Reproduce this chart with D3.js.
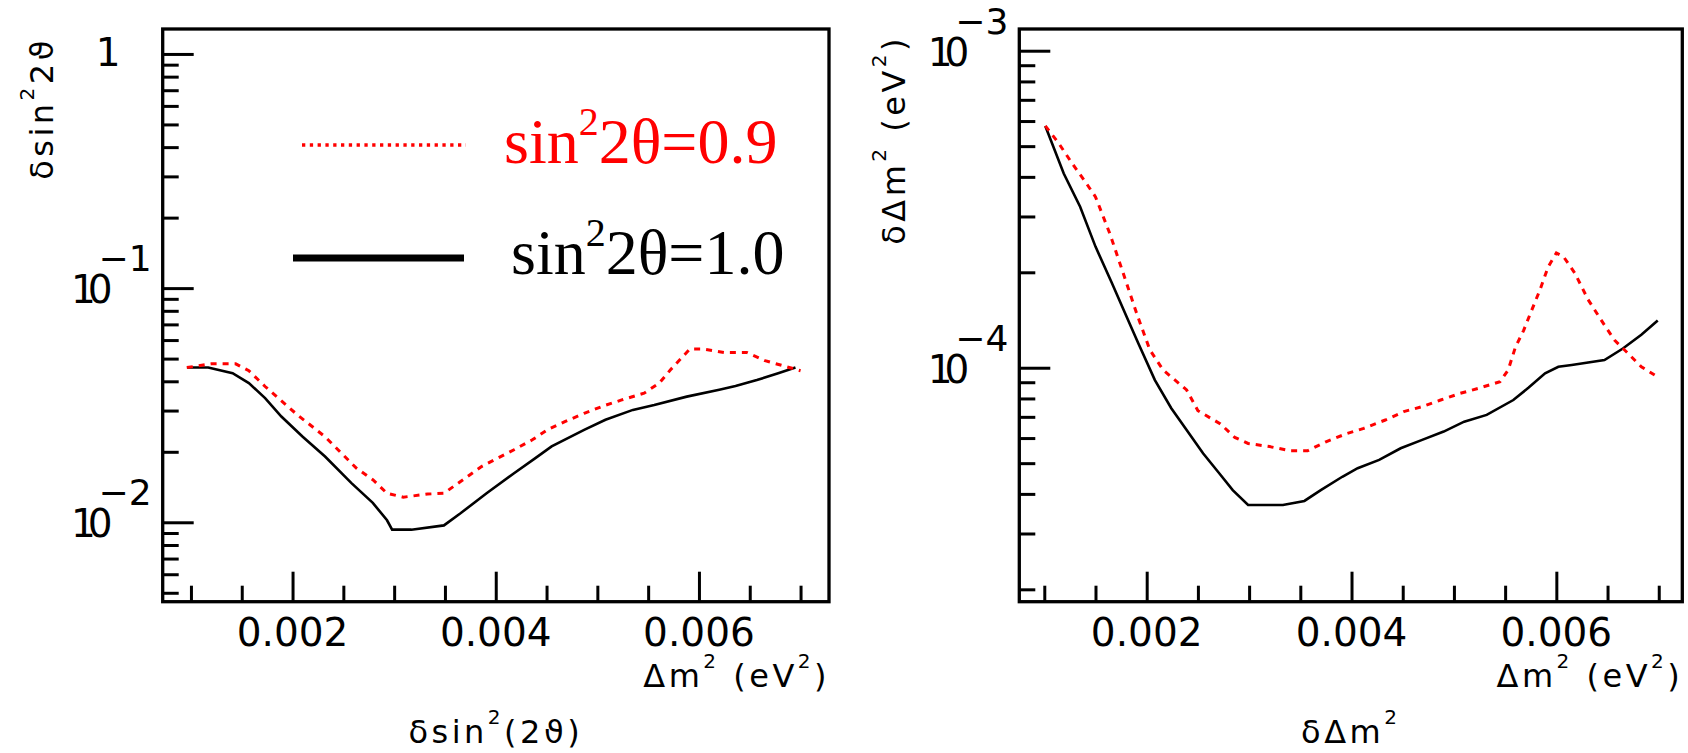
<!DOCTYPE html>
<html>
<head>
<meta charset="utf-8">
<script src="https://cdn.jsdelivr.net/npm/d3@7"></script>
<style>
  html, body { margin: 0; padding: 0; background: #fff; }
  svg { display: block; }
  .tick-label { font-family: "DejaVu Sans", sans-serif; font-size: 39px; fill: #000; }
  .axis-title { font-family: "DejaVu Sans", sans-serif; font-size: 32px; letter-spacing: 3.5px; fill: #000; }
  .legend-text { font-family: "Liberation Serif", "Times New Roman", serif; font-size: 64px; }
</style>
</head>
<body>
<svg id="chart" width="1688" height="753"></svg>
<script>
// Precision on sin^2(2θ) versus Δm^2, for true sin^2(2θ) = 1.0 and 0.9
const sinErrDm2_10 = [0.00096, 0.00117, 0.00141, 0.00157, 0.00173, 0.00189, 0.00210, 0.00232, 0.00258, 0.00279,
                      0.00293, 0.00298, 0.00317, 0.00349, 0.00365, 0.00391, 0.00418, 0.00439, 0.00455, 0.00487,
                      0.00508, 0.00535, 0.00556, 0.00588, 0.00620, 0.00636, 0.00657, 0.00678, 0.00695];
const sinErr_10     = [0.0458, 0.0458, 0.0433, 0.0393, 0.0339, 0.0283, 0.0232, 0.0191, 0.0147, 0.0121,
                      0.0102, 0.0093, 0.0093, 0.0097, 0.0109, 0.0133, 0.0162, 0.0188, 0.0211, 0.0248,
                      0.0274, 0.0302, 0.0317, 0.0344, 0.0368, 0.0382, 0.0405, 0.0433, 0.0458];

const sinErrDm2_09 = [0.00096, 0.00120, 0.00144, 0.00157, 0.00173, 0.00186, 0.00205, 0.00232, 0.00263, 0.00279,
                      0.00293, 0.00309, 0.00333, 0.00349, 0.00365, 0.00386, 0.00418, 0.00436, 0.00452, 0.00468,
                      0.00487, 0.00506, 0.00524, 0.00546, 0.00561, 0.00572, 0.00591, 0.00604, 0.00625, 0.00647,
                      0.00665, 0.00700];
const sinErr_09     = [0.0458, 0.0475, 0.0475, 0.0444, 0.0380, 0.0339, 0.0287, 0.0232, 0.0170, 0.0152,
                      0.0133, 0.0128, 0.0132, 0.0133, 0.0149, 0.0173, 0.0204, 0.0225, 0.0250, 0.0269,
                      0.0292, 0.0314, 0.0333, 0.0356, 0.0393, 0.0448, 0.0549, 0.0549, 0.0531, 0.0531,
                      0.0490, 0.0444];

// Precision on Δm^2 versus Δm^2
const dmErrDm2_10 = [0.00101, 0.00119, 0.00135, 0.00150, 0.00166, 0.00182, 0.00192, 0.00208, 0.00224, 0.00239,
                     0.00255, 0.00271, 0.00284, 0.00299, 0.00333, 0.00354, 0.00370, 0.00391, 0.00406, 0.00427,
                     0.00448, 0.00469, 0.00490, 0.00510, 0.00532, 0.00558, 0.00573, 0.00589, 0.00602, 0.00615,
                     0.00647, 0.00665, 0.00683, 0.00699];
const dmErr_10     = [5.79e-4, 4.10e-4, 3.22e-4, 2.41e-4, 1.85e-4, 1.41e-4, 1.19e-4, 9.14e-5, 7.45e-5, 6.36e-5,
                     5.37e-5, 4.64e-5, 4.11e-5, 3.69e-5, 3.69e-5, 3.80e-5, 4.11e-5, 4.53e-5, 4.82e-5, 5.12e-5,
                     5.57e-5, 5.92e-5, 6.29e-5, 6.76e-5, 7.10e-5, 7.91e-5, 8.66e-5, 9.60e-5, 1.007e-4, 1.02e-4,
                     1.057e-4, 1.15e-4, 1.27e-4, 1.41e-4];

const dmErrDm2_09 = [0.00101, 0.00114, 0.00127, 0.00140, 0.00150, 0.00164, 0.00177, 0.00190, 0.00203, 0.00216,
                     0.00239, 0.00250, 0.00272, 0.00286, 0.00299, 0.00320, 0.00340, 0.00357, 0.00375, 0.00396,
                     0.00412, 0.00433, 0.00451, 0.00469, 0.00487, 0.00506, 0.00524, 0.00545, 0.00553, 0.00560,
                     0.00568, 0.00576, 0.00584, 0.00592, 0.00600, 0.00607, 0.00618, 0.00631, 0.00644, 0.00657,
                     0.00670, 0.00683, 0.00696];
const dmErr_09     = [5.79e-4, 5.11e-4, 4.42e-4, 3.86e-4, 3.46e-4, 2.65e-4, 1.99e-4, 1.49e-4, 1.14e-4, 9.84e-5,
                     8.51e-5, 7.32e-5, 6.65e-5, 6.03e-5, 5.77e-5, 5.64e-5, 5.47e-5, 5.47e-5, 5.84e-5, 6.21e-5,
                     6.44e-5, 6.84e-5, 7.27e-5, 7.54e-5, 7.91e-5, 8.30e-5, 8.61e-5, 9.03e-5, 9.84e-5, 1.16e-4,
                     1.31e-4, 1.52e-4, 1.76e-4, 2.08e-4, 2.30e-4, 2.24e-4, 1.99e-4, 1.64e-4, 1.41e-4, 1.22e-4,
                     1.11e-4, 1.007e-4, 9.48e-5];

// Axis ticks and labels
const xMinorTicks = [0.001, 0.0015, 0.002, 0.0025, 0.003, 0.0035, 0.004, 0.0045, 0.005, 0.0055, 0.006, 0.0065, 0.007];
const xMajorTicks = [0.002, 0.004, 0.006];
const xTickLabels = ["0.002", "0.004", "0.006"];
const leftYLabelValues = [1, 0.1, 0.01];
const rightYLabelValues = [1e-3, 1e-4];

// Legend entries
const legendValues = ["0.9", "1.0"];

const svg = d3.select("#chart");

const panels = [
  {
    frame: { x0: 162.7, x1: 829, y0: 29, y1: 601.7 },
    xDomain: [0.000722, 0.00728],
    yDomain: [0.00458, 1.278],
    series: [
      { xs: sinErrDm2_10, ys: sinErr_10, color: "#000", width: 2.6, dash: null },
      { xs: sinErrDm2_09, ys: sinErr_09, color: "#ff0000", width: 3, dash: "6,6" }
    ],
    yLabelValues: leftYLabelValues,
    yTitle: { x: 53, y: 37, parts: [["δsin"], ["2", true], ["2ϑ"]] },
    bottomTitle: [["δsin"], ["2", true], ["(2ϑ)"]]
  },
  {
    frame: { x0: 1019.3, x1: 1682.3, y0: 29, y1: 601.7 },
    xDomain: [0.000756, 0.00723],
    yDomain: [1.828e-5, 1.1708e-3],
    series: [
      { xs: dmErrDm2_10, ys: dmErr_10, color: "#000", width: 2.6, dash: null },
      { xs: dmErrDm2_09, ys: dmErr_09, color: "#ff0000", width: 3, dash: "6,6" }
    ],
    yLabelValues: rightYLabelValues,
    yTitle: { x: 905, y: 35, parts: [["δΔm"], ["2", true], [" (eV"], ["2", true], [")"]] },
    bottomTitle: [["δΔm"], ["2", true]]
  }
];

// Writes a run of text pieces, raising those flagged as superscripts
function writeParts(textSel, parts) {
  let raised = false;
  parts.forEach(([str, sup]) => {
    const t = textSel.append("tspan").text(str);
    if (sup && !raised) { t.attr("dy", -19).style("font-size", "20px"); raised = true; }
    else if (!sup && raised) { t.attr("dy", 19); raised = false; }
    else if (sup) { t.style("font-size", "20px"); }
  });
}

panels.forEach(p => {
  const f = p.frame;
  const x = d3.scaleLinear().domain(p.xDomain).range([f.x0, f.x1]);
  const y = d3.scaleLog().domain(p.yDomain).range([f.y1, f.y0]);
  const g = svg.append("g");

  // curves
  const line = d3.line().x(d => x(d[0])).y(d => y(d[1]));
  p.series.forEach(s => {
    const pts = s.xs.map((v, i) => [v, s.ys[i]]);
    g.append("path")
      .attr("d", line(pts))
      .attr("fill", "none")
      .attr("stroke", s.color)
      .attr("stroke-width", s.width)
      .attr("stroke-dasharray", s.dash)
      .attr("stroke-linejoin", "miter");
  });

  // y ticks pointing into the frame
  const yAll = y.ticks();
  const isDecade = v => Math.abs(Math.log10(v) - Math.round(Math.log10(v))) < 1e-6;
  const yMinor = yAll.filter(v => !isDecade(v));
  const yMajor = yAll.filter(isDecade);
  const styleAxis = sel => {
    sel.select(".domain").remove();
    sel.selectAll(".tick line").attr("stroke", "#000").attr("stroke-width", 3);
  };
  g.append("g").attr("transform", `translate(${f.x0},0)`)
    .call(d3.axisRight(y).tickValues(yMinor).tickSize(16).tickFormat(""))
    .call(styleAxis);
  g.append("g").attr("transform", `translate(${f.x0},0)`)
    .call(d3.axisRight(y).tickValues(yMajor).tickSize(31).tickFormat(""))
    .call(styleAxis);

  // x ticks pointing up from the bottom edge
  g.append("g").attr("transform", `translate(0,${f.y1})`)
    .call(d3.axisTop(x).tickValues(xMinorTicks.filter(v => !xMajorTicks.includes(v))).tickSize(16).tickFormat(""))
    .call(styleAxis);
  g.append("g").attr("transform", `translate(0,${f.y1})`)
    .call(d3.axisTop(x).tickValues(xMajorTicks).tickSize(30).tickFormat(""))
    .call(styleAxis);

  // frame
  g.append("rect")
    .attr("x", f.x0).attr("y", f.y0)
    .attr("width", f.x1 - f.x0).attr("height", f.y1 - f.y0)
    .attr("fill", "none").attr("stroke", "#000").attr("stroke-width", 3.3);

  // x tick labels
  xMajorTicks.forEach((v, i) => {
    g.append("text").attr("class", "tick-label")
      .attr("x", x(v)).attr("y", 646)
      .attr("text-anchor", "middle")
      .text(xTickLabels[i]);
  });

  // y tick labels (powers of ten)
  p.yLabelValues.forEach(v => {
    const k = Math.round(Math.log10(v));
    const ty = y(v);
    if (k === 0) {
      g.append("text").attr("class", "tick-label")
        .attr("x", f.x0 - 42).attr("y", ty + 12)
        .attr("text-anchor", "end").text("1");
    } else {
      const base = g.append("text").attr("class", "tick-label")
        .attr("x", f.x0 - 50).attr("y", ty + 15)
        .attr("text-anchor", "end");
      base.append("tspan").text("1");
      base.append("tspan").attr("dx", -8).text("0");
      g.append("text").attr("class", "tick-label")
        .attr("x", f.x0 - 11).attr("y", ty - 17)
        .attr("text-anchor", "end")
        .style("font-size", "36px")
        .text("−" + Math.abs(k));
    }
  });

  // x axis title, right aligned under the frame
  const xt = g.append("text").attr("class", "axis-title")
    .attr("x", f.x1 + 1).attr("y", 687).attr("text-anchor", "end");
  writeParts(xt, [["Δm"], ["2", true], [" (eV"], ["2", true], [")"]]);

  // y axis title, rotated, aligned to the top
  const yt = g.append("text").attr("class", "axis-title")
    .attr("transform", `translate(${p.yTitle.x},${p.yTitle.y}) rotate(-90)`)
    .attr("text-anchor", "end");
  writeParts(yt, p.yTitle.parts);

  // title below each panel
  const bt = g.append("text").attr("class", "axis-title")
    .attr("x", (f.x0 + f.x1) / 2).attr("y", 743).attr("text-anchor", "middle");
  writeParts(bt, p.bottomTitle);
});

// legend inside the left panel
const legend = svg.append("g");
const legendRows = [
  { value: legendValues[0], color: "#ff0000", lineY: 145, x1: 302, x2: 466, width: 3.3, dash: "3.3,4.5", textX: 504, textY: 163 },
  { value: legendValues[1], color: "#000", lineY: 258, x1: 293, x2: 464, width: 7, dash: null, textX: 511, textY: 274 }
];
legendRows.forEach(r => {
  legend.append("line")
    .attr("x1", r.x1).attr("x2", r.x2).attr("y1", r.lineY).attr("y2", r.lineY)
    .attr("stroke", r.color).attr("stroke-width", r.width).attr("stroke-dasharray", r.dash);
  const t = legend.append("text").attr("class", "legend-text")
    .attr("x", r.textX).attr("y", r.textY).attr("fill", r.color);
  t.append("tspan").text("sin");
  t.append("tspan").attr("dy", -28).style("font-size", "40px").text("2");
  t.append("tspan").attr("dy", 28).text("2θ=" + r.value);
});
</script>
</body>
</html>
